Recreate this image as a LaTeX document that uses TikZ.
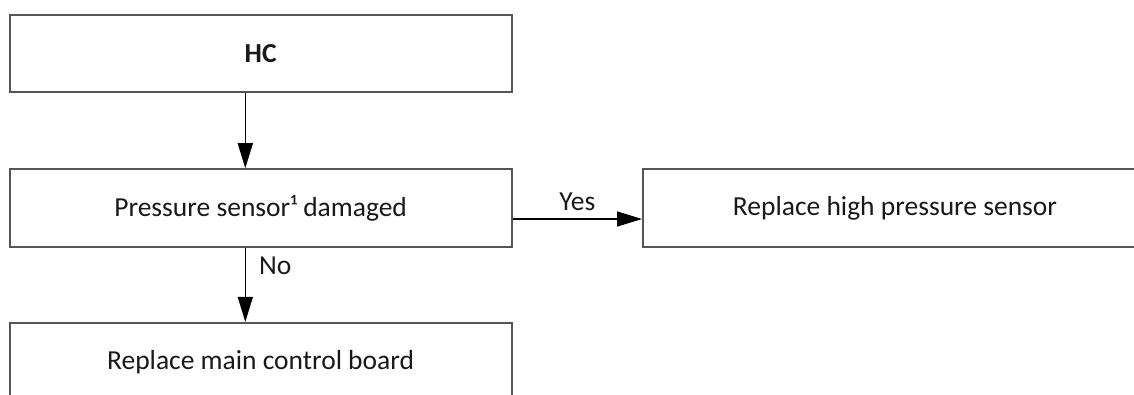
\documentclass[tikz,border=0pt]{standalone}
\usepackage{fontspec}
\setmainfont{Carlito}
\usetikzlibrary{arrows.meta}
\definecolor{boxline}{RGB}{85,85,85}
\definecolor{ink}{RGB}{25,25,25}
\begin{document}
\begin{tikzpicture}[x=1pt,y=-1pt,
  flowbox/.style={draw=boxline, line width=2pt, fill=white, rectangle,
    minimum width=502pt, minimum height=77.5pt, inner sep=0pt,
    font=\fontsize{27.5}{32}\selectfont, text=ink},
  flowarrow/.style={draw=black, line width=1.3pt,
    -{Triangle[length=25pt,width=15pt]}},
  branchlabel/.style={font=\fontsize{27.5}{32}\selectfont, text=ink, inner sep=0pt}]
  \useasboundingbox (0,0) rectangle (1134,395);
  \begin{scope}
    \clip (0,0) rectangle (1134,395);
    % boxes
    \node[flowbox, font=\fontsize{27.5}{32}\selectfont\bfseries] (hc) at (260.6,53.7) {HC};
    \node[flowbox] (ps) at (260.6,208) {Pressure sensor¹ damaged};
    \node[flowbox, minimum width=504pt] (rp) at (895,208) {Replace high pressure sensor};
    \node[flowbox] (mb) at (260.6,361.7) {Replace main control board};
    % connector guides
    \coordinate (xa) at (245.3,0);
    \coordinate (ya) at (0,219);
    % connectors
    \draw[flowarrow] (hc.south -| xa) -- (ps.north -| xa);
    \draw[flowarrow] (ps.east |- ya) -- (rp.west |- ya)
      node[branchlabel, pos=0.5, above=8pt] (yes) {Yes};
    \draw[flowarrow] (ps.south -| xa) -- (mb.north -| xa);
    \node[branchlabel, anchor=west] (no) at (259,266) {No};
  \end{scope}
\end{tikzpicture}
\end{document}
